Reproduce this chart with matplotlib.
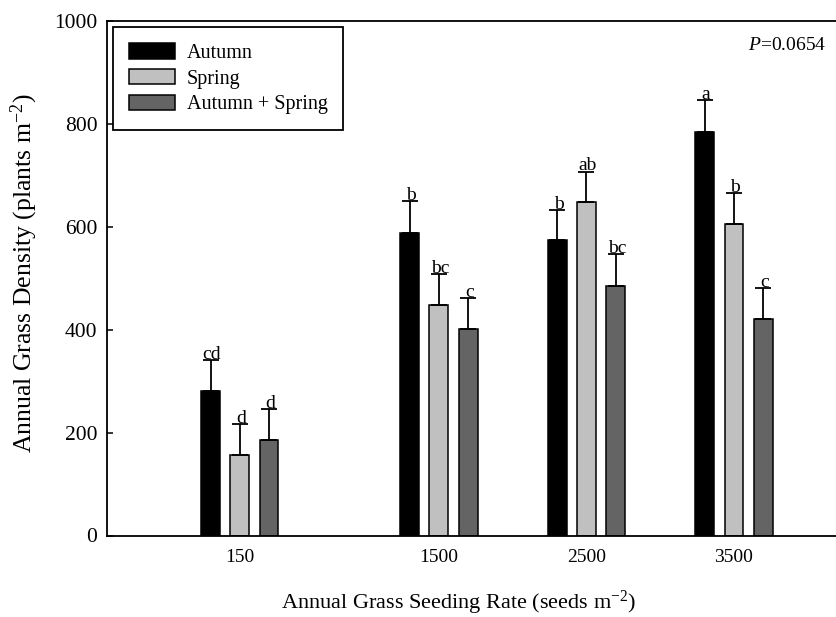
import matplotlib
matplotlib.use("Agg")
import matplotlib.pyplot as plt
import numpy as np

plt.rcParams['font.family'] = ['Liberation Serif', 'DejaVu Serif']
plt.rcParams['mathtext.fontset'] = 'custom'
plt.rcParams['mathtext.rm'] = 'Liberation Serif'
plt.rcParams['mathtext.it'] = 'Liberation Serif:italic'

# Seeding rates (seeds m-2) and timing treatments
rates = [150, 1500, 2500, 3500]
treatments = ["Autumn", "Spring", "Autumn + Spring"]

# Mean annual grass density (plants m-2)
autumn = [281, 588, 574, 784]
spring = [157, 447, 647, 606]
autumn_spring = [185, 401, 485, 420]

# Standard errors
autumn_se = [60, 61, 58, 62]
spring_se = [60, 60, 60, 60]
autumn_spring_se = [61, 61, 61, 60]

# Mean separation letters
autumn_lbl = ["cd", "b", "b", "a"]
spring_lbl = ["d", "bc", "ab", "b"]
autumn_spring_lbl = ["d", "c", "bc", "c"]

colors = ["#000000", "#c0c0c0", "#646464"]
means = [autumn, spring, autumn_spring]
errs = [autumn_se, spring_se, autumn_spring_se]
letters = [autumn_lbl, spring_lbl, autumn_spring_lbl]

W, H = 836, 617
fig = plt.figure(figsize=(W / 100, H / 100), dpi=100)
ax = fig.add_axes([107 / W, (H - 535.5) / H, 737.6 / W, 514.8 / H])

bar_w = 128
offsets = [-198, 0, 198]
x = np.array(rates, dtype=float)

for vals, se, lbls, c, off, name in zip(means, errs, letters, colors, offsets, treatments):
    xs = x + off
    ax.bar(xs, vals, width=bar_w, color=c, edgecolor="black", linewidth=1.1,
           label=name, zorder=2)
    ax.errorbar(xs, vals, yerr=[np.zeros(len(vals)), se], fmt="none",
                ecolor="black", elinewidth=1.3, capsize=5.5, capthick=1.3, zorder=3)
    for xi, v, s, t in zip(xs, vals, se, lbls):
        ax.annotate(t, (xi, v + s), xytext=(1, 0.8), textcoords="offset points",
                    ha="center", va="baseline", fontsize=14)

ax.set_xlim(-750, 4250)
ax.set_ylim(0, 1000)
ax.set_xticks(rates)
ax.set_xticklabels([str(r) for r in rates])
ax.set_yticks([0, 200, 400, 600, 800, 1000])
ax.tick_params(axis="x", length=0, pad=10, labelsize=14)
ax.tick_params(axis="y", direction="in", length=4, width=1.1, pad=7, labelsize=15.5)
for sp in ax.spines.values():
    sp.set_linewidth(1.3)

ax.set_ylabel("Annual Grass Density (plants m$^{-2}$)", fontsize=18.5)
ax.yaxis.set_label_coords((40 - 107) / 737.6, 0.51)
ax.set_xlabel("Annual Grass Seeding Rate (seeds m$^{-2}$)", fontsize=16)
ax.xaxis.set_label_coords((459 - 107) / 737.6, -(589 - 535.5) / 514.8)

ax.text(826 / W, 1 - 45 / H, "$P$=0.0654", transform=fig.transFigure,
        ha="right", va="center", fontsize=14)

leg = ax.legend(loc="upper left", bbox_to_anchor=(113 / W, 1 - 27 / H),
                bbox_transform=fig.transFigure, borderaxespad=0,
                fontsize=14.5, handlelength=2.3, handleheight=0.8,
                handletextpad=0.55, labelspacing=0.3, borderpad=0.8,
                fancybox=False, framealpha=1, edgecolor="black")
leg.get_frame().set_linewidth(1.3)

fig.savefig("out.png", dpi=100)
